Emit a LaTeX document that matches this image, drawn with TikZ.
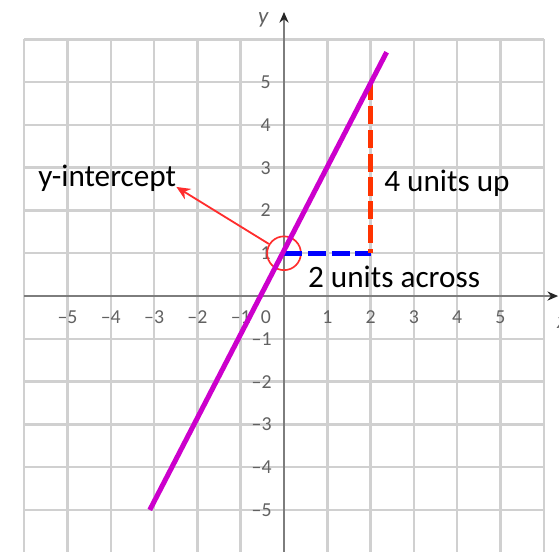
\documentclass[tikz,border=0pt]{standalone}
\usepackage{fontspec}
\setmainfont{Carlito}
\usetikzlibrary{positioning,arrows.meta,calc}
\definecolor{GridGray}{RGB}{208,208,208}
\definecolor{AxisGray}{RGB}{125,125,125}
\definecolor{LineMagenta}{RGB}{204,0,204}
\definecolor{RiseRed}{RGB}{255,51,0}
\definecolor{RunBlue}{RGB}{0,0,255}
\definecolor{MarkRed}{RGB}{255,45,45}

\begin{document}
\begin{tikzpicture}[x=1cm, y=0.988cm,
  every node/.style={font=\fontsize{20.5}{24}\selectfont, inner sep=0pt},
  ticklabel/.style={font=\fontsize{13}{15}\selectfont, text=black!62},
  gridline/.style={GridGray, line width=1.6pt},
  axisline/.style={AxisGray, line width=1.6pt, -{Stealth[length=7pt,width=6pt,color=black!85]}},
  dashseg/.style={line width=3.3pt, dash pattern=on 0.42cm off 0.13cm}]
  \useasboundingbox (-6.559,-5.98) rectangle (6.351,6.92);

  % grid
  \foreach \i in {-6,...,6} \draw[gridline] (\i,-5.98) -- (\i,6);
  \foreach \j in {-5,...,6} \draw[gridline] (-6,\j) -- (6,\j);

  % axes
  \draw[axisline] (-6,0) -- (6.33,0);
  \draw[axisline] (0,-5.98) -- (0,6.64);
  \node[ticklabel, font=\fontsize{15}{17}\selectfont\itshape] (yaxis) at (-0.48,6.45) {y};
  \node[ticklabel, font=\fontsize{15}{17}\selectfont\itshape] (xaxis) at (6.42,-0.62) {x};

  \foreach \i in {1,...,5} {
    \node[ticklabel] (xp\i) at (\i,-0.49) {\i};
    \node[ticklabel] (xn\i) at (-\i,-0.49) {–\i};
    \node[ticklabel, anchor=east] (yp\i) at (-0.3,\i) {\i};
    \node[ticklabel, anchor=east] (yn\i) at (-0.28,-\i) {–\i};
  }
  \node[ticklabel] (origin) at (-0.42,-0.49) {0};

  % intercept, run and rise
  \node[draw=MarkRed, circle, line width=1.1pt, minimum size=0.78cm] (yint) at (0,1) {};
  \draw[dashseg, RunBlue] (0,1) -- (2,1);
  \draw[dashseg, RiseRed] (2,5) -- (2,1);
  \draw[LineMagenta, line width=3.3pt] (-3.1,-5) -- (2.37,5.7);

  \node[anchor=base west] (ylab) at (-5.68,2.55) {y-intercept};
  \node[anchor=base west] (upText) at (2.31,2.45) {4 units up};
  \node[anchor=base west] (acrossText) at (0.55,0.21) {2 units across};

  \draw[MarkRed, line width=1.2pt, -{Stealth[length=9pt,width=8pt]}] (yint) -- (ylab.base east);
\end{tikzpicture}
\end{document}
